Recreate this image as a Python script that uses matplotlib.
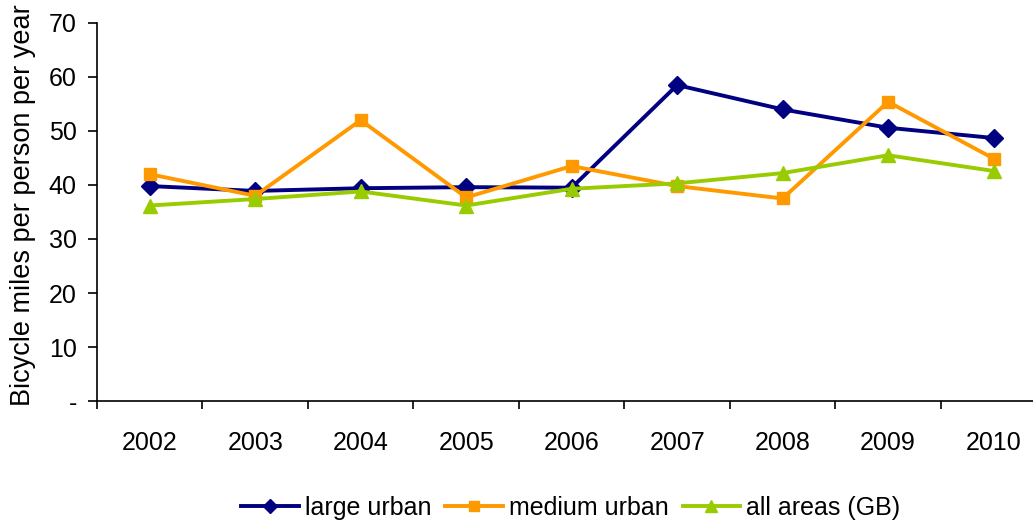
import matplotlib.pyplot as plt
import numpy as np

plt.rcParams['font.family'] = ['Liberation Sans', 'DejaVu Sans']

# bicycle miles per person per year, by area type
years = ['2002', '2003', '2004', '2005', '2006', '2007', '2008', '2009', '2010']
large_urban = [39.8, 38.9, 39.4, 39.6, 39.5, 58.5, 54.0, 50.6, 48.7]
medium_urban = [42.0, 38.0, 52.0, 37.7, 43.5, 39.8, 37.5, 55.4, 44.9]
all_areas = [36.2, 37.4, 38.8, 36.2, 39.3, 40.3, 42.2, 45.5, 42.6]
y_ticks = [0, 10, 20, 30, 40, 50, 60, 70]
y_tick_labels = ['-', '10', '20', '30', '40', '50', '60', '70']

fs = 18

fig = plt.figure(figsize=(10.33, 5.21), dpi=100)
ax = fig.add_axes([0.0939, 0.2303, 0.919, 0.7256])

x = np.arange(len(years))
ax.plot(x, large_urban, color='#000080', lw=2.8, marker='D', ms=9,
        label='large urban')
ax.plot(x, medium_urban, color='#FF9900', lw=2.8, marker='s', ms=8.5,
        label='medium urban')
ax.plot(x, all_areas, color='#99CC00', lw=2.8, marker='^', ms=10,
        label='all areas (GB)')

ax.set_xlim(-0.5, len(years) - 0.5)
ax.set_ylim(0, 70)

# year labels sit in the middle of each slot, ticks on slot edges
ax.set_xticks(x, labels=years)
ax.set_xticks(np.arange(len(years) + 1) - 0.5, minor=True)
ax.tick_params(axis='x', which='major', length=0, pad=21.5, labelsize=fs)
ax.tick_params(axis='x', which='minor', length=6, width=1.2, direction='out')

ax.set_yticks(y_ticks, labels=y_tick_labels)
ax.tick_params(axis='y', length=6.5, width=1.2, pad=8, labelsize=fs)

for side in ['top', 'right']:
    ax.spines[side].set_visible(False)
for side in ['left', 'bottom']:
    ax.spines[side].set_linewidth(1.2)

ax.set_ylabel('Bicycle miles per person per year', fontsize=19.5)
ax.yaxis.set_label_coords(-0.064, 0.518)

fig.legend(loc='center', bbox_to_anchor=(571 / 1033, 1 - 508 / 521),
           ncol=3, frameon=False, fontsize=fs, handlelength=2.3,
           handletextpad=0.25, columnspacing=0.55, markerscale=0.8,
           borderaxespad=0)

fig.savefig('out.png', dpi=100)
